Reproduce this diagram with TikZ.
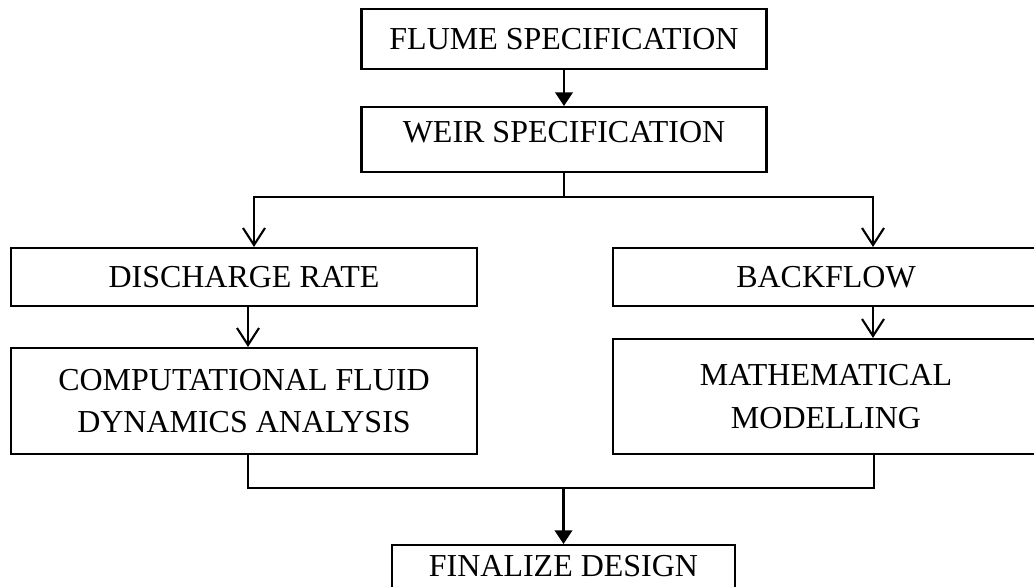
\documentclass[tikz,border=0pt]{standalone}
\usepackage{fontspec}
\setmainfont{Liberation Serif}
\usetikzlibrary{arrows.meta,positioning}

\begin{document}
\begin{tikzpicture}[x=0.02cm,y=-0.02cm,line width=1.2pt,
    stage/.style={draw,rectangle,inner sep=0pt,align=center,
      font=\fontsize{18.2}{24.2}\selectfont},
    arrowfill/.style={-{Triangle[length=0.27cm,width=0.35cm]}},
    arrowopen/.style={-{Straight Barb[length=0.34cm,width=0.44cm,line width=1.2pt]}}]
  \useasboundingbox (0,0) rectangle (1034,587);
  \clip (0,0) rectangle (1034,587);
  % stages
  \node[stage,minimum width=405*0.02cm,minimum height=60*0.02cm] (flume) at (564,39) {FLUME SPECIFICATION};
  \node[stage,minimum width=405*0.02cm,minimum height=65*0.02cm,text height=0.42cm,text depth=0.28cm] (weir) at (564,139.5) {WEIR SPECIFICATION};
  \node[stage,minimum width=466*0.02cm,minimum height=58*0.02cm] (discharge) at (244,277) {DISCHARGE RATE};
  \node[stage,minimum width=426*0.02cm,minimum height=58*0.02cm] (backflow) at (826,277) {BACKFLOW};
  \node[stage,minimum width=466*0.02cm,minimum height=106*0.02cm] (cfd) at (244,401) {COMPUTATIONAL FLUID\\DYNAMICS ANALYSIS};
  \node[stage,minimum width=426*0.02cm,minimum height=115*0.02cm] (math) at (826,396.5) {MATHEMATICAL\\MODELLING};
  \node[stage,minimum width=343*0.02cm,minimum height=43*0.02cm] (finalize) at (563.5,566.5) {FINALIZE DESIGN};
  % branch and join points
  \coordinate (split) at (564,197);
  \coordinate (splitL) at (254,197);
  \coordinate (splitR) at (873,197);
  \coordinate (joinL) at (248,488);
  \coordinate (joinR) at (874,488);
  \coordinate (join) at (563.5,488);
  % connectors
  \draw[arrowfill] (flume) -- (weir);
  \draw (weir.south) -- (split);
  \draw[arrowopen] (split) -- (splitL) -- (splitL |- discharge.north);
  \draw[arrowopen] (split) -- (splitR) -- (splitR |- backflow.north);
  \draw[arrowopen] (discharge.south -| joinL) -- (cfd.north -| joinL);
  \draw[arrowopen] (backflow.south -| splitR) -- (math.north -| splitR);
  \draw (cfd.south -| joinL) -- (joinL) -- (joinR) -- (math.south -| joinR);
  \draw[arrowfill] (join) -- (finalize.north);
\end{tikzpicture}
\end{document}
